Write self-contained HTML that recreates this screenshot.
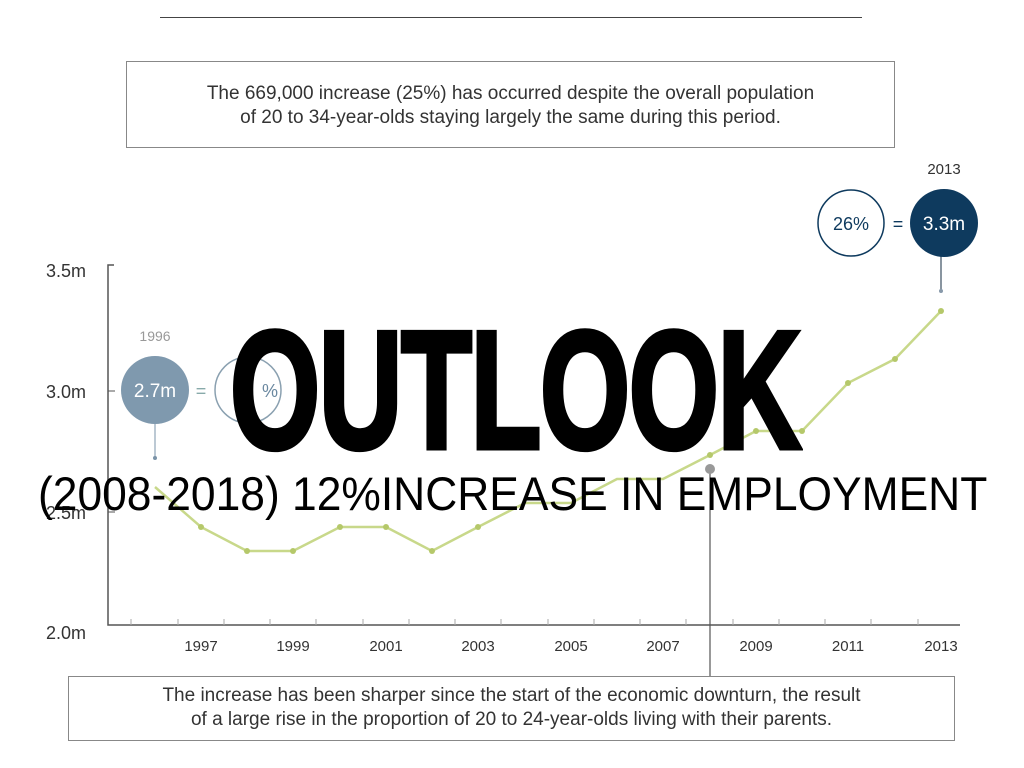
<!DOCTYPE html>
<html><head><meta charset="utf-8"><style>
body{margin:0;width:1024px;height:768px;background:#fff;position:relative;overflow:hidden;font-family:"Liberation Sans",sans-serif}
.box{position:absolute;border:1.5px solid #888;text-align:center;color:#333;font-size:19px;line-height:24px}
.t{position:absolute;white-space:nowrap}
</style></head><body>
<div style="position:absolute;left:160px;top:17px;width:702px;height:1px;background:#444"></div>
<div class="box" style="left:126px;top:61px;width:769px;height:87px;box-sizing:border-box;padding-top:20px">The 669,000 increase (25%) has occurred despite the overall population<br>of 20 to 34-year-olds staying largely the same during this period.</div>
<div class="box" style="left:68px;top:676px;width:887px;height:65px;box-sizing:border-box;padding-top:7px">The increase has been sharper since the start of the economic downturn, the result<br>of a large rise in the proportion of 20 to 24-year-olds living with their parents.</div>
<svg width="1024" height="768" style="position:absolute;left:0;top:0" font-family="Liberation Sans, sans-serif">
<g stroke="#555" fill="none">
<path d="M114 265 H108 V625 H960" stroke-width="1.5"/>
<path d="M108 391 H115 M108 512 H115" />
</g>
<g stroke="#aaa">
<path d="M131 625v-6M178 625v-6M224 625v-6M270 625v-6M316 625v-6M363 625v-6M409 625v-6M455 625v-6M501 625v-6M548 625v-6M594 625v-6M640 625v-6M686 625v-6M733 625v-6M779 625v-6M825 625v-6M871 625v-6M918 625v-6"/>
</g>
<g font-size="18" fill="#333">
<text x="46" y="277">3.5m</text><text x="46" y="398">3.0m</text><text x="46" y="519">2.5m</text><text x="46" y="639">2.0m</text>
</g>
<g font-size="15" fill="#333" text-anchor="middle">
<text x="201" y="651">1997</text><text x="293" y="651">1999</text><text x="386" y="651">2001</text><text x="478" y="651">2003</text><text x="571" y="651">2005</text><text x="663" y="651">2007</text><text x="756" y="651">2009</text><text x="848" y="651">2011</text><text x="941" y="651">2013</text>
</g>
<polyline fill="none" stroke="#c8d88a" stroke-width="2.5" points="155,487 201,527 247,551 293,551 340,527 386,527 432,551 478,527 525,503 571,503 617,479 663,479 710,455 756,431 802,431 848,383 895,359 941,311"/>
<g fill="#b5c86a">
<circle cx="201" cy="527" r="3"/><circle cx="247" cy="551" r="3"/><circle cx="293" cy="551" r="3"/><circle cx="340" cy="527" r="3"/><circle cx="386" cy="527" r="3"/><circle cx="432" cy="551" r="3"/><circle cx="478" cy="527" r="3"/><circle cx="710" cy="455" r="3"/><circle cx="756" cy="431" r="3"/><circle cx="802" cy="431" r="3"/><circle cx="848" cy="383" r="3"/><circle cx="895" cy="359" r="3"/><circle cx="941" cy="311" r="3"/>
</g>
<line x1="710" y1="469" x2="710" y2="676" stroke="#555" stroke-width="1.2"/>
<circle cx="710" cy="469" r="5" fill="#999"/>
<text x="155" y="341" font-size="14" fill="#999" text-anchor="middle">1996</text>
<line x1="155" y1="423" x2="155" y2="458" stroke="#7a93a8"/><circle cx="155" cy="458" r="2" fill="#7a93a8"/>
<circle cx="155" cy="390" r="34" fill="#7f99ae"/>
<text x="155" y="397" font-size="19" fill="#fff" text-anchor="middle">2.7m</text>
<text x="201" y="397" font-size="18" fill="#8aa" text-anchor="middle">=</text>
<circle cx="248" cy="390" r="33" fill="none" stroke="#8aa0b0" stroke-width="1.5"/>
<text x="262" y="397" font-size="18" fill="#6a88a0">%</text>
<text x="944" y="174" font-size="15" fill="#333" text-anchor="middle">2013</text>
<line x1="941" y1="255" x2="941" y2="291" stroke="#3a4e60" stroke-width="1.2"/><circle cx="941" cy="291" r="2" fill="#8899aa"/>
<circle cx="944" cy="223" r="34" fill="#0e3a5e"/>
<text x="944" y="230" font-size="19" fill="#fff" text-anchor="middle">3.3m</text>
<text x="898" y="230" font-size="18" fill="#0e3a5e" text-anchor="middle">=</text>
<circle cx="851" cy="223" r="33" fill="#fff" stroke="#0e3a5e" stroke-width="1.5"/>
<text x="851" y="230" font-size="18" fill="#0e3a5e" text-anchor="middle">26%</text>
</svg>
<div class="t" style="left:230px;top:300px;font-size:168px;font-weight:bold;color:#000;letter-spacing:-2px;-webkit-text-stroke:5px #000;transform:scaleX(0.69);transform-origin:0 0;line-height:180px">OUTLOOK</div>
<div class="t" style="left:38px;top:466px;font-size:47px;color:#000;line-height:56px;transform:scaleX(0.944);transform-origin:0 0">(2008-2018) 12%INCREASE IN EMPLOYMENT</div>
</body></html>
